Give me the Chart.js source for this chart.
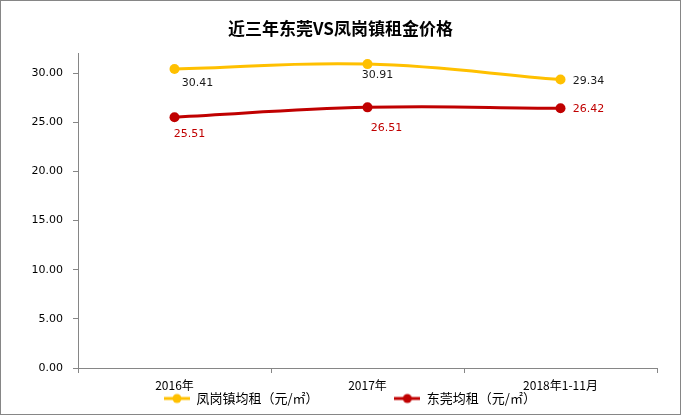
<!DOCTYPE html>
<html>
<head>
<meta charset="utf-8">
<title>近三年东莞VS凤岗镇租金价格</title>
<script src="https://cdn.jsdelivr.net/npm/chart.js@4"></script>
<style>
  body { margin: 0; background: #fff; }
  #wrap { width: 681px; height: 415px; }
</style>
</head>
<body>
<div id="wrap"><canvas id="rentChart" width="681" height="415"></canvas></div>
<script>
// 数据
const years = ['2016年', '2017年', '2018年1-11月'];
const fenggangRent = [30.41, 30.91, 29.34];
const dongguanRent = [25.51, 26.51, 26.42];
const yTicks = [0, 5, 10, 15, 20, 25, 30];

const YELLOW = '#FFC000';
const RED = '#C00000';
const AXIS = '#868686';
const NUM_FONT = 'DejaVu Sans';
const CJK_FONT = 'Noto Sans CJK SC';

// label offsets from each point (px), per dataset
const labelOffsets = [
  [[23, 14], [10, 11], [28, 2]],
  [[15, 17], [19, 21], [28, 1]]
];
const labelColors = ['#1a1a1a', RED];

// legend icon: line with a dot
function legendIcon(color) {
  const c = document.createElement('canvas');
  c.width = 26; c.height = 12;
  const g = c.getContext('2d');
  g.strokeStyle = color; g.lineWidth = 3;
  g.beginPath(); g.moveTo(0, 6); g.lineTo(26, 6); g.stroke();
  g.fillStyle = color;
  g.beginPath(); g.arc(13, 6, 4.5, 0, Math.PI * 2); g.fill();
  return c;
}
const legendIcons = [legendIcon(YELLOW), legendIcon(RED)];
// spacing after each legend entry (the original legend is spread and sits right of centre)
const legendGap = ['\u3000\u3000\u3000\u3000\u3000\u3000\u2005', '\u3000\u3000\u3000\u2009'];

const valueLabels = {
  id: 'valueLabels',
  afterDatasetsDraw(chart) {
    const ctx = chart.ctx;
    ctx.save();
    ctx.font = '11px "' + NUM_FONT + '"';
    ctx.textAlign = 'center';
    ctx.textBaseline = 'middle';
    chart.data.datasets.forEach((ds, di) => {
      chart.getDatasetMeta(di).data.forEach((pt, i) => {
        const off = labelOffsets[di][i];
        ctx.fillStyle = labelColors[di];
        ctx.fillText(ds.data[i].toFixed(2), pt.x + off[0], pt.y + off[1]);
      });
    });
    ctx.restore();
  }
};

const frame = {
  id: 'frame',
  afterDraw(chart) {
    const ctx = chart.ctx;
    ctx.save();
    ctx.strokeStyle = AXIS;
    ctx.lineWidth = 1;
    ctx.strokeRect(0.5, 0.5, chart.width - 1, chart.height - 1);
    ctx.restore();
  }
};

new Chart(document.getElementById('rentChart'), {
  type: 'line',
  data: {
    labels: years,
    datasets: [
      {
        label: '凤岗镇均租（元/㎡）',
        data: fenggangRent,
        borderColor: YELLOW,
        backgroundColor: YELLOW,
        borderWidth: 3,
        tension: 0.4,
        pointRadius: 5,
        pointHoverRadius: 5,
        pointBorderWidth: 0
      },
      {
        label: '东莞均租（元/㎡）',
        data: dongguanRent,
        borderColor: RED,
        backgroundColor: RED,
        borderWidth: 3,
        tension: 0.4,
        pointRadius: 5,
        pointHoverRadius: 5,
        pointBorderWidth: 0
      }
    ]
  },
  options: {
    responsive: false,
    animation: false,
    devicePixelRatio: 1,
    layout: { padding: { left: 24, right: 24, top: 0, bottom: 0 } },
    plugins: {
      title: {
        display: true,
        text: '近三年东莞VS凤岗镇租金价格',
        color: '#000',
        font: { family: CJK_FONT, size: 17, weight: 'bold' },
        padding: { top: 18, bottom: 15 }
      },
      legend: {
        position: 'bottom',
        fullSize: false,
        labels: {
          usePointStyle: true,
          pointStyleWidth: 26,
          boxHeight: 12,
          color: '#000',
          font: { family: CJK_FONT, size: 13 },
          padding: 1,
          generateLabels: chart =>
            Chart.defaults.plugins.legend.labels.generateLabels(chart)
              .map((l, i) => Object.assign(l, { pointStyle: legendIcons[i], text: l.text + legendGap[i] }))
        }
      },
      tooltip: { enabled: false }
    },
    scales: {
      x: {
        offset: true,
        afterFit: scale => { scale.height = 23; },
        grid: { offset: true, drawOnChartArea: false, tickLength: 5, color: AXIS },
        border: { color: AXIS },
        ticks: { color: '#000', font: { family: CJK_FONT, size: 12 }, padding: 5, maxRotation: 0 }
      },
      y: {
        min: 0,
        max: 32,
        afterBuildTicks: scale => { scale.ticks = yTicks.map(v => ({ value: v })); },
        afterFit: scale => { scale.width = 54; },
        grid: { drawOnChartArea: false, tickLength: 5, color: AXIS },
        border: { color: AXIS },
        ticks: {
          color: '#000',
          font: { family: NUM_FONT, size: 11 },
          padding: 10,
          callback: v => Number(v).toFixed(2)
        }
      }
    }
  },
  plugins: [valueLabels, frame]
});
</script>
</body>
</html>
